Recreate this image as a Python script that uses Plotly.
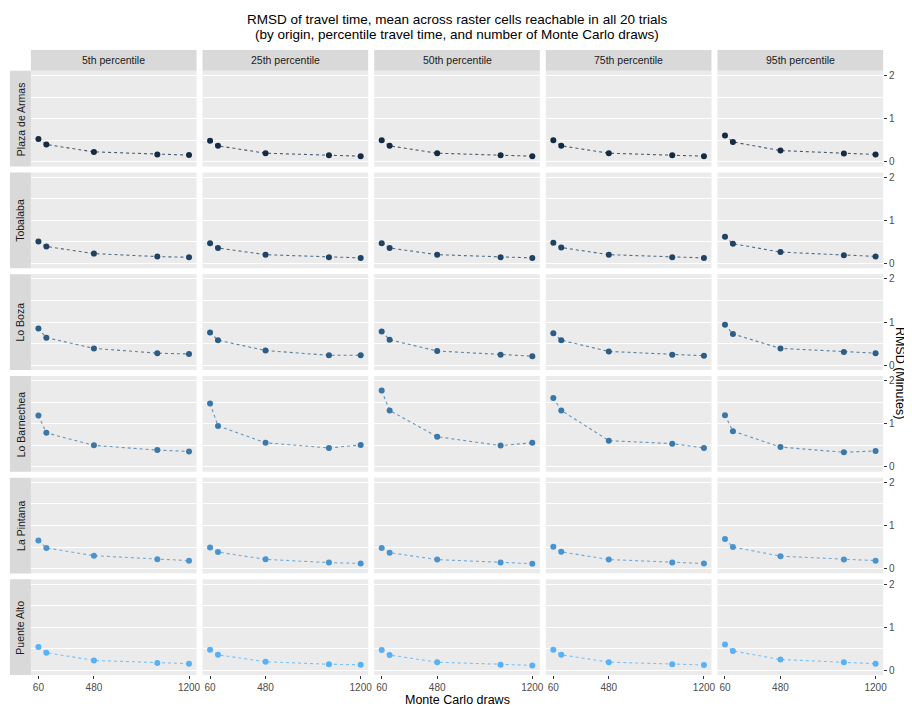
import plotly.graph_objects as go

# ---------------- data ----------------
draws = [60, 120, 480, 960, 1200]
x_ticks = [60, 480, 1200]
y_ticks = [0, 1, 2]
percentiles = ["5th percentile", "25th percentile", "50th percentile",
               "75th percentile", "95th percentile"]
origins = ["Plaza de Armas", "Tobalaba", "Lo Boza", "Lo Barnechea",
           "La Pintana", "Puente Alto"]

# RMSD (minutes) per percentile (rows of each list), across draws
plaza_de_armas = [
    [0.53, 0.40, 0.23, 0.17, 0.155],
    [0.49, 0.37, 0.20, 0.15, 0.13],
    [0.50, 0.37, 0.20, 0.15, 0.13],
    [0.50, 0.37, 0.20, 0.15, 0.13],
    [0.61, 0.46, 0.26, 0.19, 0.17],
]
tobalaba = [
    [0.51, 0.395, 0.23, 0.16, 0.145],
    [0.47, 0.36, 0.205, 0.145, 0.13],
    [0.47, 0.36, 0.205, 0.145, 0.13],
    [0.48, 0.37, 0.205, 0.145, 0.13],
    [0.62, 0.46, 0.265, 0.19, 0.165],
]
lo_boza = [
    [0.85, 0.64, 0.39, 0.28, 0.26],
    [0.76, 0.58, 0.34, 0.23, 0.23],
    [0.78, 0.59, 0.33, 0.245, 0.21],
    [0.74, 0.58, 0.32, 0.245, 0.22],
    [0.94, 0.725, 0.39, 0.305, 0.28],
]
lo_barnechea = [
    [1.19, 0.79, 0.50, 0.39, 0.36],
    [1.47, 0.95, 0.56, 0.44, 0.51],
    [1.77, 1.31, 0.70, 0.495, 0.56],
    [1.60, 1.31, 0.61, 0.54, 0.44],
    [1.20, 0.83, 0.46, 0.34, 0.37],
]
la_pintana = [
    [0.65, 0.48, 0.30, 0.215, 0.185],
    [0.49, 0.385, 0.215, 0.14, 0.12],
    [0.48, 0.37, 0.21, 0.14, 0.115],
    [0.51, 0.39, 0.21, 0.14, 0.12],
    [0.685, 0.50, 0.29, 0.21, 0.185],
]
puente_alto = [
    [0.54, 0.41, 0.23, 0.17, 0.155],
    [0.48, 0.36, 0.20, 0.14, 0.13],
    [0.47, 0.355, 0.19, 0.13, 0.115],
    [0.48, 0.36, 0.19, 0.14, 0.125],
    [0.60, 0.45, 0.25, 0.185, 0.155],
]
rmsd = [plaza_de_armas, tobalaba, lo_boza, lo_barnechea, la_pintana, puente_alto]

# ---------------- colours (ggplot default gradient, Lab interpolation) ----------------
def _srgb_to_lin(c):
    c = c / 255.0
    return c / 12.92 if c <= 0.04045 else ((c + 0.055) / 1.055) ** 2.4

def _lin_to_srgb(c):
    c = max(0.0, min(1.0, c))
    v = 12.92 * c if c <= 0.0031308 else 1.055 * c ** (1 / 2.4) - 0.055
    return int(round(max(0, min(1, v)) * 255))

def hex_to_lab(h):
    r, g, b = [_srgb_to_lin(int(h[i:i + 2], 16)) for i in (1, 3, 5)]
    X = (0.4124 * r + 0.3576 * g + 0.1805 * b) / 0.95047
    Y = (0.2126 * r + 0.7152 * g + 0.0722 * b)
    Z = (0.0193 * r + 0.1192 * g + 0.9505 * b) / 1.08883
    f = lambda t: t ** (1 / 3) if t > 0.008856 else 7.787 * t + 16 / 116
    fx, fy, fz = f(X), f(Y), f(Z)
    return (116 * fy - 16, 500 * (fx - fy), 200 * (fy - fz))

def lab_to_hex(L, a, b):
    fy = (L + 16) / 116
    fx = fy + a / 500
    fz = fy - b / 200
    finv = lambda t: t ** 3 if t ** 3 > 0.008856 else (t - 16 / 116) / 7.787
    X, Y, Z = finv(fx) * 0.95047, finv(fy), finv(fz) * 1.08883
    r = 3.2406 * X - 1.5372 * Y - 0.4986 * Z
    g = -0.9689 * X + 1.8758 * Y + 0.0415 * Z
    bb = 0.0557 * X - 0.2040 * Y + 1.0570 * Z
    return "#%02X%02X%02X" % (_lin_to_srgb(r), _lin_to_srgb(g), _lin_to_srgb(bb))

lo, hi = hex_to_lab("#132B43"), hex_to_lab("#56B1F7")
n_o = len(origins)
colors = []
for i in range(n_o):
    t = i / (n_o - 1)
    colors.append(lab_to_hex(*[lo[k] + t * (hi[k] - lo[k]) for k in range(3)]))

def rgba(h, a):
    return "rgba(%d,%d,%d,%.2f)" % (int(h[1:3], 16), int(h[3:5], 16), int(h[5:7], 16), a)

# ---------------- layout geometry (page pixels) ----------------
OFF = 8                # default body margin of the page
W, H = 912 - OFF, 706 - OFF
left, right_edge = 31, 887
top, bottom = 70, 676
gap = 6
n_c = len(percentiles)
pw = (right_edge - left - gap * (n_c - 1)) / n_c
ph = (bottom - top - gap * (n_o - 1)) / n_o

def px(x):
    return (x - OFF) / W

def py(y):
    return 1 - (y - OFF) / H

FONT = "Liberation Sans, Arial, Helvetica, sans-serif"
fig = go.Figure()
shapes = []
annotations = []
layout_axes = {}

for r in range(n_o):
    for c in range(n_c):
        k = r * n_c + c + 1
        x0 = left + c * (pw + gap)
        x1 = x0 + pw
        y0 = top + r * (ph + gap)
        y1 = y0 + ph
        xs = "" if k == 1 else str(k)
        fig.add_trace(go.Scatter(
            x=draws, y=rmsd[r][c], mode="lines",
            line=dict(color=rgba(colors[r], 0.75), width=1.1, dash="3px,3px"),
            xaxis="x" + xs, yaxis="y" + xs, showlegend=False, hoverinfo="skip"))
        fig.add_trace(go.Scatter(
            x=draws, y=rmsd[r][c], mode="markers",
            marker=dict(color=colors[r], size=6, line=dict(width=0)),
            xaxis="x" + xs, yaxis="y" + xs, showlegend=False))
        bottom_row = r == n_o - 1
        right_col = c == n_c - 1
        layout_axes["xaxis" + xs] = dict(
            domain=[px(x0), px(x1)], anchor="y" + xs, range=[3, 1257],
            showgrid=False, zeroline=False, showline=False,
            tickvals=x_ticks, showticklabels=bottom_row,
            ticks="outside" if bottom_row else "", ticklen=3, tickwidth=1,
            tickcolor="#333333",
            tickfont=dict(family=FONT, size=10, color="#4D4D4D"))
        layout_axes["yaxis" + xs] = dict(
            domain=[py(y1), py(y0)], anchor="x" + xs, range=[-0.11, 2.11],
            side="right", zeroline=False, showline=False,
            tickvals=y_ticks, showgrid=True, gridcolor="white", gridwidth=1.1,
            showticklabels=right_col,
            ticks="outside" if right_col else "", ticklen=3, tickwidth=1,
            tickcolor="#333333",
            tickfont=dict(family=FONT, size=10, color="#4D4D4D"),
            minor=dict(tickvals=[0.5, 1.5], showgrid=True, gridcolor="white",
                       gridwidth=0.6, ticks=""))
        # column strips
        if r == 0:
            shapes.append(dict(type="rect", xref="paper", yref="paper",
                               x0=px(x0), x1=px(x1), y0=py(top), y1=py(49),
                               fillcolor="#D9D9D9", line=dict(width=0), layer="below"))
            annotations.append(dict(text=percentiles[c], xref="paper", yref="paper",
                                    x=px((x0 + x1) / 2), y=py(59.5), showarrow=False,
                                    xanchor="center", yanchor="middle",
                                    font=dict(family=FONT, size=10.5, color="#1A1A1A")))
        # row strips
        if c == 0:
            shapes.append(dict(type="rect", xref="paper", yref="paper",
                               x0=px(10), x1=px(left), y0=py(y1), y1=py(y0),
                               fillcolor="#D9D9D9", line=dict(width=0), layer="below"))
            annotations.append(dict(text=origins[r], xref="paper", yref="paper",
                                    x=px(20.5), y=py((y0 + y1) / 2), showarrow=False,
                                    textangle=-90, xanchor="center", yanchor="middle",
                                    font=dict(family=FONT, size=10.5, color="#1A1A1A")))

# titles
annotations.append(dict(text="RMSD of travel time, mean across raster cells reachable in all 20 trials",
                        xref="paper", yref="paper", x=px(459), y=py(19), showarrow=False,
                        xanchor="center", yanchor="middle",
                        font=dict(family=FONT, size=13.5, color="black")))
annotations.append(dict(text="(by origin, percentile travel time, and number of Monte Carlo draws)",
                        xref="paper", yref="paper", x=px(459), y=py(34), showarrow=False,
                        xanchor="center", yanchor="middle",
                        font=dict(family=FONT, size=13.5, color="black")))
annotations.append(dict(text="Monte Carlo draws", xref="paper", yref="paper",
                        x=px(459), y=py(700.5), showarrow=False, borderpad=0,
                        xanchor="center", yanchor="middle",
                        font=dict(family=FONT, size=12.5, color="black")))
annotations.append(dict(text="RMSD (Minutes)", xref="paper", yref="paper",
                        x=px(904), y=py(373), showarrow=False, textangle=90,
                        xanchor="center", yanchor="middle",
                        font=dict(family=FONT, size=12.5, color="black")))

fig.update_layout(
    width=W, height=H, margin=dict(l=0, r=0, t=0, b=0),
    paper_bgcolor="white", plot_bgcolor="#EBEBEB",
    shapes=shapes, annotations=annotations, showlegend=False,
    font=dict(family=FONT),
    **layout_axes)

fig.write_html("out.html")
